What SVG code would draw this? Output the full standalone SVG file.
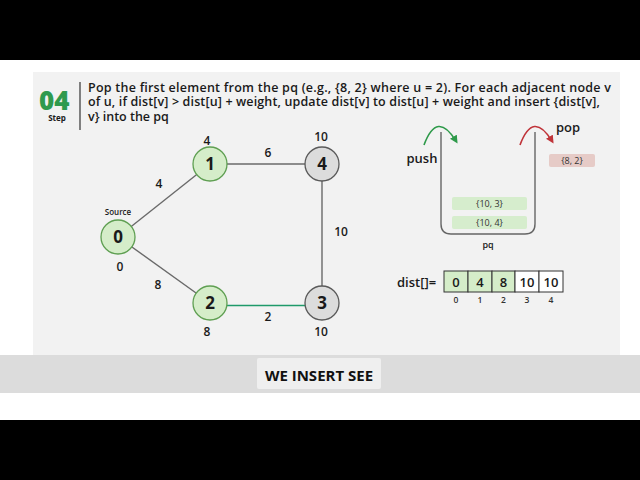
<svg xmlns="http://www.w3.org/2000/svg" width="640" height="480" viewBox="0 0 640 480">
<defs>
<style>
text{font-family:"Open Sans","Noto Sans","Liberation Sans",sans-serif;fill:#1a1a1a}
.desc{font-size:12.5px;font-weight:600}
.nl{font-size:17px;font-weight:700;text-anchor:middle}
.lbl{font-size:12px;font-weight:600;text-anchor:middle}
.gn{fill:#d5edc9;stroke:#5f9f52;stroke-width:1.3}
.gr{fill:#dcdcdc;stroke:#5a5a5a;stroke-width:1.3}
.edge{stroke:#6a6a6a;stroke-width:1.4;fill:none}
.item{font-size:9px;text-anchor:middle;fill:#333}
.cell{stroke:#333;stroke-width:1}
.cv{font-size:13px;font-weight:600;text-anchor:middle}
.idx{font-size:8.5px;font-weight:600;text-anchor:middle;fill:#333}
</style>
<marker id="ag" markerWidth="8" markerHeight="8" refX="5" refY="4" orient="auto" markerUnits="userSpaceOnUse"><path d="M0,0 L8,4 L0,8 z" fill="#2e9a4a"/></marker>
<marker id="ar" markerWidth="8" markerHeight="8" refX="5" refY="4" orient="auto" markerUnits="userSpaceOnUse"><path d="M0,0 L8,4 L0,8 z" fill="#c0343a"/></marker>
</defs>
<rect width="640" height="480" fill="#ffffff"/>
<rect x="0" y="0" width="640" height="60" fill="#000"/>
<rect x="0" y="420" width="640" height="60" fill="#000"/>
<rect x="33" y="72" width="587" height="283" fill="#f2f2f2"/>
<rect x="0" y="355" width="640" height="38" fill="#dcdcdc"/>
<rect x="257" y="358" width="124" height="31" rx="2" fill="#efefef"/>
<text x="319" y="381" font-size="15" font-weight="700" text-anchor="middle" style="fill:#111">WE INSERT SEE</text>

<g id="header">
<text x="39" y="110" font-size="26" font-weight="800" style="fill:#2f9a4e">04</text>
<text x="57" y="121" font-size="8" font-weight="700" text-anchor="middle">Step</text>
<line x1="80" y1="82" x2="80" y2="130" stroke="#333" stroke-width="1.2"/>
<text class="desc" x="88" y="92" textLength="523" lengthAdjust="spacing">Pop the first element from the pq (e.g., {8, 2} where u = 2). For each adjacent node v</text>
<text class="desc" x="88" y="106" textLength="512" lengthAdjust="spacing">of u, if dist[v] &gt; dist[u] + weight, update dist[v] to dist[u] + weight and insert {dist[v],</text>
<text class="desc" x="88" y="121">v} into the pq</text>
</g>

<g id="connectors">
<line class="edge" x1="118" y1="237" x2="210" y2="164"/>
<line class="edge" x1="118" y1="237" x2="210" y2="303"/>
<line class="edge" x1="210" y1="164" x2="322" y2="164"/>
<line class="edge" x1="322" y1="164" x2="322" y2="303"/>
<line x1="210" y1="305.500" x2="322" y2="305.500" stroke="#1f9a6a" stroke-width="1.6"/>
<text class="lbl" x="159" y="188">4</text>
<text class="lbl" x="158" y="289">8</text>
<text class="lbl" x="268" y="157">6</text>
<text class="lbl" x="341" y="236">10</text>
<text class="lbl" x="268" y="321">2</text>
</g>

<g id="node0">
<circle class="gn" cx="118" cy="237" r="17"/>
<text class="nl" x="118" y="243">0</text>
<text x="118" y="215" font-size="8" font-weight="600" text-anchor="middle">Source</text>
<text class="lbl" x="120" y="271">0</text>
</g>
<g id="node1">
<circle class="gn" cx="210" cy="164" r="17"/>
<text class="nl" x="210" y="170">1</text>
<text class="lbl" x="207" y="145">4</text>
</g>
<g id="node4">
<circle class="gr" cx="322" cy="164" r="17"/>
<text class="nl" x="322" y="170">4</text>
<text class="lbl" x="321" y="141">10</text>
</g>
<g id="node2">
<circle class="gn" cx="210" cy="303" r="17"/>
<text class="nl" x="210" y="309">2</text>
<text class="lbl" x="207" y="336">8</text>
</g>
<g id="node3">
<circle class="gr" cx="322" cy="303" r="17"/>
<text class="nl" x="322" y="309">3</text>
<text class="lbl" x="321" y="336">10</text>
</g>

<g id="pq">
<path d="M441,132 V224 Q441,234 451,234 H525 Q535,234 535,224 V132" fill="none" stroke="#666" stroke-width="1.4"/>
<rect x="452" y="197" width="75" height="13" rx="2" fill="#d6edcd"/>
<text class="item" x="489.500" y="206.500">{10, 3}</text>
<rect x="452" y="216" width="75" height="13" rx="2" fill="#d6edcd"/>
<text class="item" x="489.500" y="225.500">{10, 4}</text>
<text x="488" y="248" font-size="9" font-weight="600" text-anchor="middle">pq</text>
<path d="M424,145 Q437,110 456,141" fill="none" stroke="#2e9a4a" stroke-width="1.6" marker-end="url(#ag)"/>
<text x="422" y="163" font-size="13" font-weight="600" text-anchor="middle">push</text>
<path d="M520,145 Q533,110 552,141" fill="none" stroke="#c0343a" stroke-width="1.6" marker-end="url(#ar)"/>
<text x="568" y="132" font-size="13" font-weight="600" text-anchor="middle">pop</text>
<rect x="549" y="154" width="46" height="13" rx="2" fill="#e6cbc7"/>
<text class="item" x="572" y="163.500">{8, 2}</text>
</g>

<g id="dist">
<text x="397" y="287" font-size="13" font-weight="600">dist[]=</text>
<rect class="cell" x="444" y="271" width="24" height="21" fill="#d5edc9"/>
<rect class="cell" x="468" y="271" width="24" height="21" fill="#d5edc9"/>
<rect class="cell" x="492" y="271" width="23" height="21" fill="#d5edc9"/>
<rect class="cell" x="515" y="271" width="24" height="21" fill="#fff"/>
<rect class="cell" x="539" y="271" width="24" height="21" fill="#fff"/>
<text class="cv" x="456" y="286.500">0</text>
<text class="cv" x="480" y="286.500">4</text>
<text class="cv" x="503.500" y="286.500">8</text>
<text class="cv" x="527" y="286.500">10</text>
<text class="cv" x="551" y="286.500">10</text>
<text class="idx" x="456" y="303">0</text>
<text class="idx" x="480" y="303">1</text>
<text class="idx" x="503.500" y="303">2</text>
<text class="idx" x="527" y="303">3</text>
<text class="idx" x="551" y="303">4</text>
</g>
</svg>
